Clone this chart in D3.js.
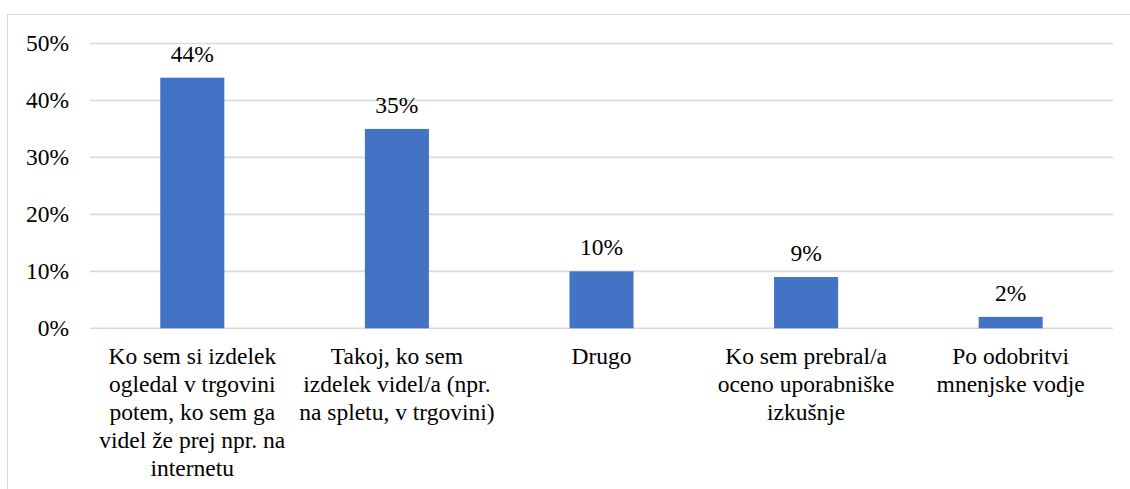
<!DOCTYPE html>
<html>
<head>
<meta charset="utf-8">
<script src="https://cdn.jsdelivr.net/npm/d3@7"></script>
</head>
<body style="margin:0">
<svg id="chart" width="1130" height="489"></svg>
<script>
// Categories (label lines) and shares in percent
const categories = [
  ["Ko sem si izdelek", "ogledal v trgovini", "potem, ko sem ga", "videl že prej npr. na", "internetu"],
  ["Takoj, ko sem", "izdelek videl/a (npr.", "na spletu, v trgovini)"],
  ["Drugo"],
  ["Ko sem prebral/a", "oceno uporabniške", "izkušnje"],
  ["Po odobritvi", "mnenjske vodje"]
];
const values = [44, 35, 10, 9, 2];
const yTicks = [0, 10, 20, 30, 40, 50];

const W = 1130, H = 489;
const FS = 23.5;
const margin = { left: 90, right: 17, top: 43.5, bottom: 161 };
const svg = d3.select("#chart");

// Outer frame (runs past the right and bottom edges)
svg.append("rect")
  .attr("x", 7.5).attr("y", 14.5)
  .attr("width", W + 20).attr("height", H + 20)
  .attr("fill", "none").attr("stroke", "#d9d9d9").attr("stroke-width", 1);

const x = d3.scaleBand()
  .domain(d3.range(categories.length))
  .range([margin.left, W - margin.right])
  .paddingInner(0.687).paddingOuter(0.3435);

const y = d3.scaleLinear()
  .domain([0, 50])
  .range([H - margin.bottom + 0.3, margin.top]);

// Horizontal gridlines
svg.append("g")
  .selectAll("line")
  .data(yTicks)
  .join("line")
  .attr("x1", margin.left).attr("x2", W - margin.right)
  .attr("y1", d => y(d)).attr("y2", d => y(d))
  .attr("stroke", "#d9d9d9").attr("stroke-width", 1.6);

// Y axis tick labels
svg.append("g")
  .selectAll("text")
  .data(yTicks)
  .join("text")
  .attr("x", 69)
  .attr("y", d => y(d))
  .attr("dy", "0.33em")
  .attr("text-anchor", "end")
  .style("font-family", "Liberation Serif")
  .attr("font-size", FS)
  .text(d => d + "%");

// Bars
svg.append("g")
  .selectAll("rect")
  .data(values)
  .join("rect")
  .attr("x", (d, i) => x(i))
  .attr("width", x.bandwidth())
  .attr("y", d => y(d))
  .attr("height", d => y(0) - y(d))
  .attr("fill", "#4472c4");

// Value labels above bars
svg.selectAll("text.val")
  .data(values)
  .join("text")
  .attr("class", "val")
  .attr("x", (d, i) => x(i) + x.bandwidth() / 2)
  .attr("y", d => y(d) - 16)
  .attr("text-anchor", "middle")
  .style("font-family", "Liberation Serif")
  .attr("font-size", FS)
  .text(d => d + "%");

// Category labels below the axis, one text per line
categories.forEach((lines, i) => {
  svg.selectAll("text.cat" + i)
    .data(lines)
    .join("text")
    .attr("class", "cat" + i)
    .attr("x", x(i) + x.bandwidth() / 2)
    .attr("y", (d, j) => y(0) + 36 + j * 27.8)
    .attr("text-anchor", "middle")
    .style("font-family", "Liberation Serif")
    .attr("font-size", FS)
    .text(d => d);
});
</script>
</body>
</html>
